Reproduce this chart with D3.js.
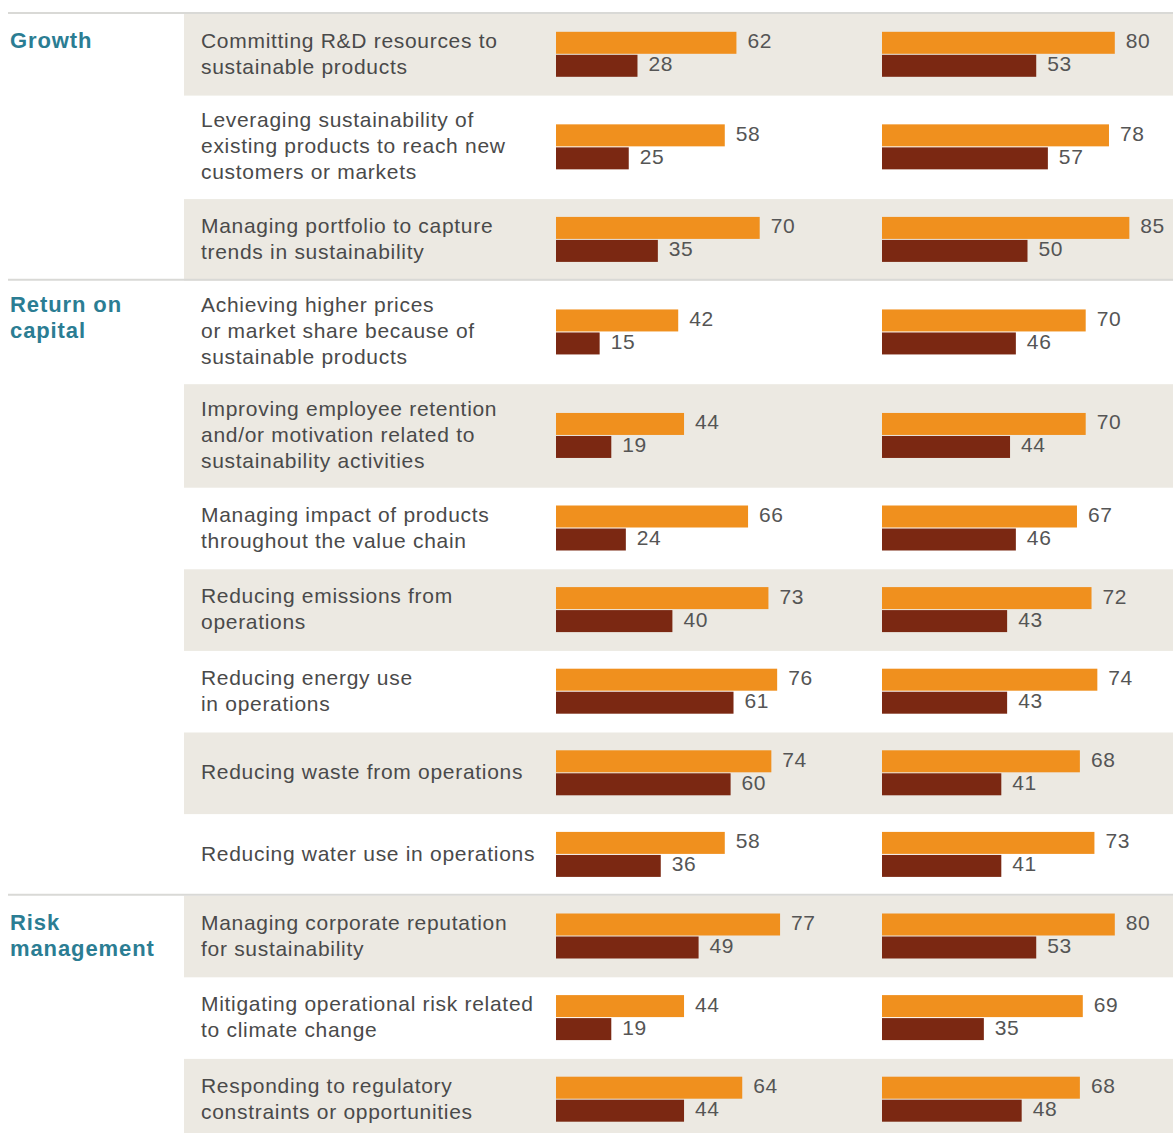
<!DOCTYPE html>
<html>

<head>
    <meta charset="utf-8">
    <style>
        body {
            margin: 0;
            background: #fff;
        }

        svg {
            display: block;
            font-family: "Liberation Sans", Arial, sans-serif;
        }

        .group-label {
            font-size: 22px;
            font-weight: bold;
            letter-spacing: 0.9px;
            fill: #2b7d93;
        }

        .item-label {
            font-size: 21px;
            letter-spacing: 0.7px;
            fill: #4a4a4a;
        }

        .value {
            font-size: 21px;
            letter-spacing: 0.6px;
            fill: #555;
        }
    </style>
</head>

<body>
    <svg width="1173" height="1133"></svg>

    <script src="https://d3js.org/d3.v7.min.js"></script>

    <script>
        // groups and the rows they hold
        let groups = [
            { name: ["Growth"], count: 3 },
            { name: ["Return on", "capital"], count: 7 },
            { name: ["Risk", "management"], count: 3 }
        ]

        let items = [
            ["Committing R&D resources to", "sustainable products"],
            ["Leveraging sustainability of", "existing products to reach new", "customers or markets"],
            ["Managing portfolio to capture", "trends in sustainability"],
            ["Achieving higher prices", "or market share because of", "sustainable products"],
            ["Improving employee retention", "and/or motivation related to", "sustainability activities"],
            ["Managing impact of products", "throughout the value chain"],
            ["Reducing emissions from", "operations"],
            ["Reducing energy use", "in operations"],
            ["Reducing waste from operations"],
            ["Reducing water use in operations"],
            ["Managing corporate reputation", "for sustainability"],
            ["Mitigating operational risk related", "to climate change"],
            ["Responding to regulatory", "constraints or opportunities"]
        ]

        // left panel
        let leftTop = [62, 58, 70, 42, 44, 66, 73, 76, 74, 58, 77, 44, 64]
        let leftBottom = [28, 25, 35, 15, 19, 24, 40, 61, 60, 36, 49, 19, 44]

        // right panel
        let rightTop = [80, 78, 85, 70, 70, 67, 72, 74, 68, 73, 80, 69, 68]
        let rightBottom = [53, 57, 50, 46, 44, 46, 43, 43, 41, 41, 53, 35, 48]

        let orange = "#f0901e"
        let brown = "#7b2812"
        let bandColor = "#ece9e2"

        let svg = d3.select("svg")

        let x = d3.scaleLinear()
            .domain([0, 100])
            .range([0, 291])

        let panels = [
            { x0: 556, top: leftTop, bottom: leftBottom },
            { x0: 882, top: rightTop, bottom: rightBottom }
        ]

        let lineH = 26
        let barH = 22

        // row positions
        let rows = []
        let yPos = 14
        items.forEach(function (lines, i) {
            let h = lines.length > 2 ? 103.5 : 81.6
            rows.push({ i: i, lines: lines, y: yPos, h: h, mid: yPos + h / 2 })
            yPos += h
        })

        // shaded bands on every other row
        svg.append("g")
            .selectAll("rect")
            .data(rows.filter(d => d.i % 2 === 0))
            .join("rect")
            .attr("x", 184)
            .attr("y", d => d.y)
            .attr("width", 1173 - 184)
            .attr("height", d => d.h)
            .attr("fill", bandColor)

        // group separators + group labels
        let start = 0
        groups.forEach(function (g) {
            let r = rows[start]
            svg.append("line")
                .attr("x1", 8)
                .attr("x2", 1173)
                .attr("y1", r.y - 1)
                .attr("y2", r.y - 1)
                .attr("stroke", "#d9d9d6")
                .attr("stroke-width", 2)

            let firstLine = r.mid - (r.lines.length - 1) * lineH / 2
            svg.append("text")
                .attr("class", "group-label")
                .attr("x", 10)
                .attr("y", firstLine)
                .attr("dominant-baseline", "middle")
                .selectAll("tspan")
                .data(g.name)
                .join("tspan")
                .attr("x", 10)
                .attr("dy", (d, k) => k === 0 ? 0 : lineH)
                .text(d => d)

            start += g.count
        })

        // item labels
        svg.append("g")
            .selectAll("text")
            .data(rows)
            .join("text")
            .attr("class", "item-label")
            .attr("x", 201)
            .attr("y", d => d.mid - (d.lines.length - 1) * lineH / 2)
            .attr("dominant-baseline", "middle")
            .selectAll("tspan")
            .data(d => d.lines)
            .join("tspan")
            .attr("x", 201)
            .attr("dy", (d, k) => k === 0 ? 0 : lineH)
            .text(d => d)

        // bars
        panels.forEach(function (p) {
            let g = svg.append("g")
                .attr("transform", `translate(${p.x0},0)`)

            g.selectAll(".top")
                .data(rows)
                .join("rect")
                .attr("class", "top")
                .attr("x", x(0))
                .attr("y", d => d.mid - barH - 1)
                .attr("width", d => x(p.top[d.i]))
                .attr("height", barH)
                .attr("fill", orange)

            g.selectAll(".bottom")
                .data(rows)
                .join("rect")
                .attr("class", "bottom")
                .attr("x", x(0))
                .attr("y", d => d.mid)
                .attr("height", barH)
                .attr("width", d => x(p.bottom[d.i]))
                .attr("fill", brown)

            g.selectAll(".vtop")
                .data(rows)
                .join("text")
                .attr("class", "value vtop")
                .attr("x", d => x(p.top[d.i]) + 11)
                .attr("y", d => d.mid - barH / 2 - 1)
                .attr("dominant-baseline", "middle")
                .text(d => p.top[d.i])

            g.selectAll(".vbottom")
                .data(rows)
                .join("text")
                .attr("class", "value vbottom")
                .attr("x", d => x(p.bottom[d.i]) + 11)
                .attr("y", d => d.mid + barH / 2)
                .attr("dominant-baseline", "middle")
                .text(d => p.bottom[d.i])
        })
    </script>
</body>

</html>
